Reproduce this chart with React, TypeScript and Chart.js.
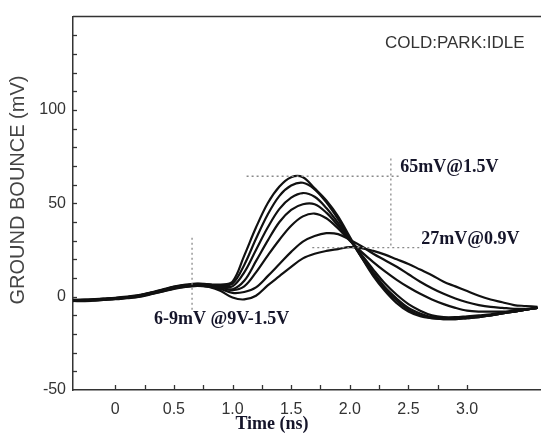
import React, { useEffect, useRef } from "react";
import { Chart, registerables } from "chart.js";

Chart.register(...registerables);

// Time axis samples (ns)
const TIME_NS = [
  -0.4, -0.3, -0.2, -0.1, 0, 0.1, 0.2, 0.3, 0.4, 0.5, 0.6, 0.7, 0.8,
  0.9, 1.0, 1.1, 1.2, 1.3, 1.4, 1.5, 1.6, 1.7, 1.8, 1.9, 2.0, 2.1, 2.2,
  2.3, 2.4, 2.5, 2.6, 2.7, 2.8, 2.9, 3.0, 3.1, 3.2, 3.3, 3.4, 3.5, 3.6,
];

// Ground bounce traces (mV), highest supply to lowest
const BOUNCE_A = [
  -2.5, -2.2, -2, -1.6, -1.2, -0.6, 0.2, 1.6, 3.2, 4.8, 5.8, 6.5, 6.5,
  6.5, 8, 22, 37, 50, 59, 64, 64, 58, 51.5, 43, 32, 21, 11, 3, -3.5, -8,
  -10.5, -11.5, -12, -12, -11.5, -11, -10, -9, -8, -7, -6,
];
const BOUNCE_B = [
  -2, -2, -1.8, -1.4, -1, -0.4, 0.4, 1.8, 3.4, 5, 6, 6.5, 6.2,
  6, 7, 17, 31, 44, 54, 59.5, 61, 57.5, 50.5, 41.5, 31, 21, 12, 4, -2, -7,
  -10, -11.5, -12, -12, -11.5, -11, -10, -9, -8, -7, -6,
];
const BOUNCE_C = [
  -1.6, -1.8, -1.6, -1.2, -0.8, -0.2, 0.5, 2, 3.5, 5.2, 6.2, 6.8, 6.4,
  5.5, 5.5, 13, 25, 37, 47, 53, 55.5, 53.5, 47.5, 39.5, 30.5, 21.5, 13, 5,
  -1, -6, -9, -11, -11.5, -11.5, -11, -10.5, -10, -9, -8, -7, -6,
];
const BOUNCE_D = [
  -2.2, -2.4, -2.2, -1.8, -1.4, -0.8, -0.2, 1.2, 2.6, 4.2, 5.2, 5.8, 5.6,
  4.8, 4, 8.5, 19, 30, 40, 46.5, 49.5, 49.5, 45, 38, 30.5, 22.5, 14.5, 7, 1,
  -4, -7.5, -10, -11, -11, -10.5, -10, -9.5, -8.5, -8, -7, -6,
];
const BOUNCE_E = [
  -1.8, -1.6, -1.4, -1, -0.6, 0, 0.8, 2.2, 3.8, 5.4, 6.4, 7, 6.6,
  5, 3.5, 5.5, 13, 22, 30.5, 38, 43, 44.5, 42, 36.5, 30, 24, 18.5, 13.5, 9,
  5, 1.5, -1.5, -4, -6, -7.5, -8, -8, -8, -7.5, -7, -6,
];
const BOUNCE_F = [
  -2.4, -2.2, -2, -1.6, -1.2, -0.6, 0, 1.4, 2.8, 4.4, 5.4, 5.8, 5.4,
  4, 2, 2.5, 5, 11, 17.5, 24, 29.5, 32.5, 34, 33.5, 30.5, 27, 23, 19.5, 16,
  12, 8, 4.5, 1.5, -1, -3, -4.5, -5.5, -6, -6.5, -6.5, -6,
];
const BOUNCE_G = [
  -2, -1.8, -1.6, -1.2, -0.8, -0.2, 0.6, 2, 3.4, 5, 6, 6.2, 5.2,
  3, -0.5, -1.5, 0.5, 6, 11, 16, 20.5, 23, 24.5, 25.5, 26.5, 26, 24.5, 22.5,
  20, 17.5, 14.5, 11.5, 8, 5.5, 3, 0.5, -1.5, -3, -4.5, -5, -5.5,
];
const SERIES = [BOUNCE_A, BOUNCE_B, BOUNCE_C, BOUNCE_D, BOUNCE_E, BOUNCE_F, BOUNCE_G];

// Dotted guide lines (ns, mV)
const GUIDE_PEAK_HIGH_X = [1.12, 2.43];
const GUIDE_PEAK_HIGH_Y = [64.5, 64.5];
const GUIDE_VERT_X = [2.35, 2.35];
const GUIDE_VERT_Y = [74, 26.3];
const GUIDE_PEAK_LOW_X = [1.68, 2.62];
const GUIDE_PEAK_LOW_Y = [26.3, 26.3];
const GUIDE_PRE_X = [0.655, 0.655];
const GUIDE_PRE_Y = [31.6, -8];

// Annotation texts with anchor (ns, mV)
const NOTE_TEXTS = ["65mV@1.5V", "27mV@0.9V", "6-9mV @9V-1.5V"];
const NOTE_X = [2.43, 2.61, 0.33];
const NOTE_Y = [69.2, 30.5, -12.4];
const CORNER_TEXT = "COLD:PARK:IDLE";
const CORNER_X = 2.3;
const CORNER_Y = 135.5;

// Axis ranges / ticks
const X_MIN = -0.36;
const X_MAX = 3.63;
const Y_MIN = -50;
const Y_MAX = 150;
const X_TICK_LABELS = [0, 0.5, 1.0, 1.5, 2.0, 2.5, 3.0];
const Y_TICK_LABELS = [-50, 0, 50, 100];
const X_TITLE = "Time (ns)";
const Y_TITLE = "GROUND BOUNCE (mV)";

const toPts = (xs: number[], ys: number[]) => xs.map((x, i) => ({ x, y: ys[i] }));

const decorPlugin = {
  id: "decor",
  afterDatasetsDraw(chart: any) {
    const { ctx, chartArea, scales } = chart;
    const xs = scales.x;
    const ys = scales.y;
    ctx.save();
    // top frame line
    ctx.strokeStyle = "#333";
    ctx.lineWidth = 1.5;
    ctx.beginPath();
    ctx.moveTo(chartArea.left, chartArea.top);
    ctx.lineTo(chartArea.right, chartArea.top);
    ctx.stroke();
    // inward tick marks
    ctx.lineWidth = 1.3;
    for (let v = -40; v <= 140; v += 10) {
      const py = Math.round(ys.getPixelForValue(v)) + 0.5;
      ctx.beginPath();
      ctx.moveTo(chartArea.left, py);
      ctx.lineTo(chartArea.left + 4, py);
      ctx.stroke();
    }
    for (let k = 0; k <= 12; k++) {
      const v = k * 0.25;
      const px = Math.round(xs.getPixelForValue(v)) + 0.5;
      ctx.beginPath();
      ctx.moveTo(px, chartArea.bottom);
      ctx.lineTo(px, chartArea.bottom - 5);
      ctx.stroke();
    }
    // annotation texts
    ctx.fillStyle = "#15152a";
    ctx.font = "bold 18px 'Liberation Serif', 'Times New Roman', serif";
    ctx.textAlign = "left";
    ctx.textBaseline = "middle";
    NOTE_TEXTS.forEach((t, i) => {
      ctx.fillText(t, xs.getPixelForValue(NOTE_X[i]), ys.getPixelForValue(NOTE_Y[i]));
    });
    ctx.fillStyle = "#333";
    ctx.font = "17px 'Liberation Sans', Arial, sans-serif";
    ctx.fillText(CORNER_TEXT, xs.getPixelForValue(CORNER_X), ys.getPixelForValue(CORNER_Y));
    // axis titles
    ctx.fillStyle = "#15152a";
    ctx.font = "bold 18px 'Liberation Serif', 'Times New Roman', serif";
    ctx.textAlign = "center";
    ctx.fillText(X_TITLE, 272, 424);
    ctx.fillStyle = "#444";
    ctx.font = "20px 'Liberation Sans', Arial, sans-serif";
    ctx.translate(18, 190);
    ctx.rotate(-Math.PI / 2);
    ctx.fillText(Y_TITLE, 0, 0);
    ctx.restore();
  },
};

export default function App() {
  const ref = useRef<HTMLCanvasElement | null>(null);
  useEffect(() => {
    if (!ref.current) return;
    const traceSets = SERIES.map((s, i) => ({
      label: "trace" + i,
      data: toPts(TIME_NS, s),
      borderColor: "#111",
      borderWidth: 2.2,
      pointRadius: 0,
      tension: 0.35,
      fill: false,
    }));
    const guide = (xs: number[], ys: number[], name: string) => ({
      label: name,
      data: toPts(xs, ys),
      borderColor: "#8a8a8a",
      borderWidth: 1.3,
      borderDash: [2, 3],
      pointRadius: 0,
      tension: 0,
      fill: false,
    });
    const chart = new Chart(ref.current, {
      type: "line",
      data: {
        datasets: [
          guide(GUIDE_PEAK_HIGH_X, GUIDE_PEAK_HIGH_Y, "g1"),
          guide(GUIDE_VERT_X, GUIDE_VERT_Y, "g2"),
          guide(GUIDE_PEAK_LOW_X, GUIDE_PEAK_LOW_Y, "g3"),
          guide(GUIDE_PRE_X, GUIDE_PRE_Y, "g4"),
          ...traceSets,
        ] as any,
      },
      options: {
        responsive: false,
        animation: false,
        devicePixelRatio: 1,
        layout: { padding: { top: 8, left: 0, right: 0, bottom: 0 } },
        plugins: { legend: { display: false }, tooltip: { enabled: false } },
        scales: {
          x: {
            type: "linear",
            min: X_MIN,
            max: X_MAX,
            afterFit: (s: any) => { s.height = 55; },
            afterBuildTicks: (s: any) => { s.ticks = X_TICK_LABELS.map((v) => ({ value: v })); },
            grid: { display: false, drawTicks: false },
            border: { display: true, color: "#333", width: 1.5 },
            ticks: {
              autoSkip: false,
              maxRotation: 0,
              padding: 10,
              color: "#333",
              font: { family: "'Liberation Sans', Arial, sans-serif", size: 16 },
              callback: (v: any) => (Number(v) === 0 ? "0" : Number(v).toFixed(1)),
            },
          },
          y: {
            type: "linear",
            min: Y_MIN,
            max: Y_MAX,
            afterFit: (s: any) => { s.width = 73; },
            afterBuildTicks: (s: any) => { s.ticks = Y_TICK_LABELS.map((v) => ({ value: v })); },
            grid: { display: false, drawTicks: false },
            border: { display: true, color: "#333", width: 1.5 },
            ticks: {
              autoSkip: false,
              padding: 7,
              color: "#333",
              font: { family: "'Liberation Sans', Arial, sans-serif", size: 16 },
              callback: (v: any) => String(v),
            },
          },
        },
      } as any,
      plugins: [decorPlugin],
    });
    return () => chart.destroy();
  }, []);
  return (
    <div style={{ position: "fixed", left: 0, top: 0, width: 541, height: 445, background: "#fff" }}>
      <canvas ref={ref} width={541} height={445} style={{ display: "block" }} />
    </div>
  );
}
